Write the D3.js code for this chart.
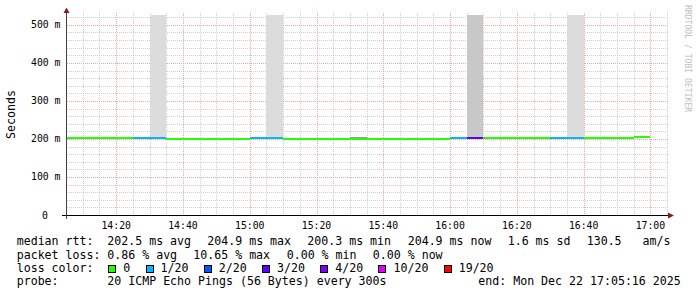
<!DOCTYPE html>
<html>
<head>
<meta charset="utf-8">
<script src="https://cdn.jsdelivr.net/npm/d3@7"></script>
<style>
body { margin: 0; background: #fff; }
text { font-family: "DejaVu Sans Mono", monospace; white-space: pre; }
</style>
</head>
<body>
<script>
var width = 697,
    height = 297;

// data
var stepStarts = ["14:05", "14:10", "14:15", "14:20", "14:25", "14:30", "14:35", "14:40", "14:45", "14:50",
                  "14:55", "15:00", "15:05", "15:10", "15:15", "15:20", "15:25", "15:30", "15:35", "15:40",
                  "15:45", "15:50", "15:55", "16:00", "16:05", "16:10", "16:15", "16:20", "16:25", "16:30",
                  "16:35", "16:40", "16:45", "16:50", "16:55"];
var medianRtt = [203.0, 203.0, 203.0, 203.0, 203.8, 203.8, 201.0, 199.0, 201.0, 201.0,
                 201.0, 201.8, 203.5, 201.0, 201.0, 201.0, 201.0, 201.0, 201.0, 201.0,
                 199.0, 201.0, 201.0, 201.5, 203.5, 203.5, 203.5, 203.5, 203.5, 203.5,
                 203.5, 203.5, 203.5, 203.5, 205.5];
var lossLevel = [0, 0, 0, 0, 1, 1, 0, 0, 0, 0,
                 0, 1, 1, 0, 0, 0, 0, 0, 0, 0,
                 0, 0, 0, 1, 3, 0, 0, 0, 0, 1,
                 1, 0, 0, 0, 0];

var smokeStarts = ["14:30", "15:05", "15:30", "16:05", "16:35"],
    smokeTops = [600, 600, 204.6, 600, 600],
    smokePings = [2, 2, 9, 4, 2];

var lossLabels = ["0", "1/20", "2/20", "3/20", "4/20", "10/20", "19/20"],
    lossColors = ["#26ff00", "#00b8ff", "#0059ff", "#5e00ff", "#7e00ff", "#dd00ff", "#ff0000"];

var yTicks = [0, 100, 200, 300, 400, 500];

var rttLegend = ["median rtt:", "202.5 ms avg", "204.9 ms max", "200.3 ms min", "204.9 ms now", "1.6 ms sd", "130.5   am/s"],
    lossLegend = ["packet loss:", "0.86 % avg", "10.65 % max", "0.00 % min", "0.00 % now"],
    probeLegend = ["probe:", "20 ICMP Echo Pings (56 Bytes) every 300s", "end: Mon Dec 22 17:05:16 2025"];
// end data

function atTime(s) {
    var p = s.split(":");
    return new Date(2025, 11, 22, +p[0], +p[1], 0);
}

var t0 = new Date(2025, 11, 22, 14, 5, 16),
    t1 = new Date(2025, 11, 22, 17, 5, 16);

var xRange = d3.scaleTime().domain([t0, t1]).range([67, 668]),
    yRange = d3.scaleLinear().domain([0, 526]).range([215, 15]);

var smokeShade = d3.scaleLinear().domain([2, 4]).range(["#dcdcdc", "#c8c8c8"]);

var svg = d3.select("body").append("svg")
    .attr("width", width)
    .attr("height", height);

svg.append("defs").append("clipPath")
    .attr("id", "plot-clip")
    .append("rect")
    .attr("x", 67)
    .attr("y", 15)
    .attr("width", 601)
    .attr("height", 200);

// grid
var gGrid = svg.append("g").attr("shape-rendering", "crispEdges");

var minorTimes = xRange.ticks(d3.timeMinute.every(5)),
    majorTimes = xRange.ticks(d3.timeMinute.every(20));

gGrid.selectAll(".vminor")
    .data(minorTimes.filter(function(d) { return d.getMinutes() % 20 !== 0; }))
    .enter().append("line")
    .attr("x1", function(d) { return Math.round(xRange(d)) + 0.5; })
    .attr("x2", function(d) { return Math.round(xRange(d)) + 0.5; })
    .attr("y1", 13)
    .attr("y2", 215)
    .attr("stroke", "#cfcfcf")
    .attr("stroke-dasharray", "1,1");

gGrid.selectAll(".hminor")
    .data(d3.range(20, 521, 20).filter(function(d) { return d % 100 !== 0; }))
    .enter().append("line")
    .attr("x1", 67)
    .attr("x2", 668)
    .attr("y1", function(d) { return Math.round(yRange(d)) + 0.5; })
    .attr("y2", function(d) { return Math.round(yRange(d)) + 0.5; })
    .attr("stroke", "#cfcfcf")
    .attr("stroke-dasharray", "1,1");

gGrid.selectAll(".vmajor")
    .data(majorTimes)
    .enter().append("line")
    .attr("x1", function(d) { return Math.round(xRange(d)) + 0.5; })
    .attr("x2", function(d) { return Math.round(xRange(d)) + 0.5; })
    .attr("y1", 13)
    .attr("y2", 215)
    .attr("stroke", "#eaa5a5")
    .attr("stroke-dasharray", "1,1");

gGrid.selectAll(".hmajor")
    .data(yTicks.filter(function(d) { return d > 0; }))
    .enter().append("line")
    .attr("x1", 67)
    .attr("x2", 668)
    .attr("y1", function(d) { return Math.round(yRange(d)) + 0.5; })
    .attr("y2", function(d) { return Math.round(yRange(d)) + 0.5; })
    .attr("stroke", "#eaa5a5")
    .attr("stroke-dasharray", "1,1");
// end grid

// smoke
var gSmoke = svg.append("g")
    .attr("clip-path", "url(#plot-clip)")
    .attr("shape-rendering", "crispEdges");

gSmoke.selectAll("rect")
    .data(smokeStarts.map(function(s, i) {
        var k = stepStarts.indexOf(s);
        return { start: atTime(s), top: smokeTops[i], base: medianRtt[k], pings: smokePings[i] };
    }))
    .enter().append("rect")
    .attr("x", function(d) { return xRange(d.start); })
    .attr("width", function(d) { return xRange(d3.timeMinute.offset(d.start, 5)) - xRange(d.start); })
    .attr("y", function(d) { return yRange(d.top); })
    .attr("height", function(d) { return yRange(d.base) - yRange(d.top); })
    .attr("fill", function(d) { return smokeShade(d.pings); });
// end smoke

// median line
var gMedian = svg.append("g")
    .attr("clip-path", "url(#plot-clip)")
    .attr("shape-rendering", "crispEdges");

gMedian.selectAll("line")
    .data(stepStarts.map(function(s, i) {
        return { start: atTime(s), value: medianRtt[i], loss: lossLevel[i] };
    }))
    .enter().append("line")
    .attr("x1", function(d) { return xRange(d.start); })
    .attr("x2", function(d) { return xRange(d3.timeMinute.offset(d.start, 5)); })
    .attr("y1", function(d) { return yRange(d.value); })
    .attr("y2", function(d) { return yRange(d.value); })
    .attr("stroke", function(d) { return lossColors[d.loss]; })
    .attr("stroke-width", 2);
// end median line

// axes
var gAxes = svg.append("g");

gAxes.append("line")
    .attr("x1", 62).attr("x2", 670)
    .attr("y1", 215.5).attr("y2", 215.5)
    .attr("stroke", "#000")
    .attr("shape-rendering", "crispEdges");

gAxes.append("line")
    .attr("x1", 66.5).attr("x2", 66.5)
    .attr("y1", 219).attr("y2", 12)
    .attr("stroke", "#444")
    .attr("shape-rendering", "crispEdges");

gAxes.append("path")
    .attr("d", "M668,212.5L674,215.5L668,218.5Z")
    .attr("fill", "#7f1f1f");

gAxes.append("path")
    .attr("d", "M63.5,13L66.5,7.5L69.5,13Z")
    .attr("fill", "#7f1f1f");

gAxes.selectAll(".xlabel")
    .data(majorTimes)
    .enter().append("text")
    .attr("x", function(d) { return xRange(d); })
    .attr("y", 228.5)
    .attr("text-anchor", "middle")
    .attr("font-size", "9.8px")
    .attr("fill", "#000")
    .text(d3.timeFormat("%H:%M"));

gAxes.selectAll(".ylabel")
    .data(yTicks)
    .enter().append("text")
    .attr("x", function(d) { return d === 0 ? 48 : 60.5; })
    .attr("y", function(d) { return yRange(d) + 3.5; })
    .attr("text-anchor", "end")
    .attr("font-size", "9.8px")
    .attr("fill", "#000")
    .text(function(d) { return d === 0 ? "0" : d + " m"; });

svg.append("text")
    .attr("transform", "translate(15.3,114.5) rotate(-90)")
    .attr("text-anchor", "middle")
    .attr("font-size", "11.6px")
    .attr("fill", "#000")
    .text("Seconds");

svg.append("text")
    .attr("transform", "translate(684.5,5) rotate(90)")
    .attr("font-size", "8.1px")
    .attr("fill", "#c0c0c0")
    .text("RRDTOOL / TOBI OETIKER");
// end axes

// legend
var gLegend = svg.append("g")
    .attr("font-size", "11.6px")
    .attr("fill", "#000");

var rttX = [16.7, 107.3, 207.3, 307.3, 407.7, 507.7, 586.7],
    lossX = [16.7, 107.3, 193.3, 286.7, 372.8],
    probeX = [16.7, 107.3, 478.3];

function legendRow(items, xs, y) {
    gLegend.selectAll(null)
        .data(items)
        .enter().append("text")
        .attr("x", function(d, i) { return xs[i]; })
        .attr("y", y)
        .text(function(d) { return d; });
}

legendRow(rttLegend, rttX, 245.3);
legendRow(lossLegend, lossX, 258.7);
legendRow(probeLegend, probeX, 285.3);

gLegend.append("text")
    .attr("x", 16.7)
    .attr("y", 272)
    .text("loss color:");

var entryX = 123.3;
lossLabels.forEach(function(label, i) {
    gLegend.append("rect")
        .attr("x", entryX - 14.5)
        .attr("y", 265.5)
        .attr("width", 7)
        .attr("height", 7)
        .attr("fill", lossColors[i])
        .attr("stroke", "#000")
        .attr("shape-rendering", "crispEdges");
    var t = gLegend.append("text")
        .attr("x", entryX)
        .attr("y", 272)
        .text(label);
    entryX += t.node().getComputedTextLength() + 30.3;
});
// end legend
</script>
</body>
</html>
